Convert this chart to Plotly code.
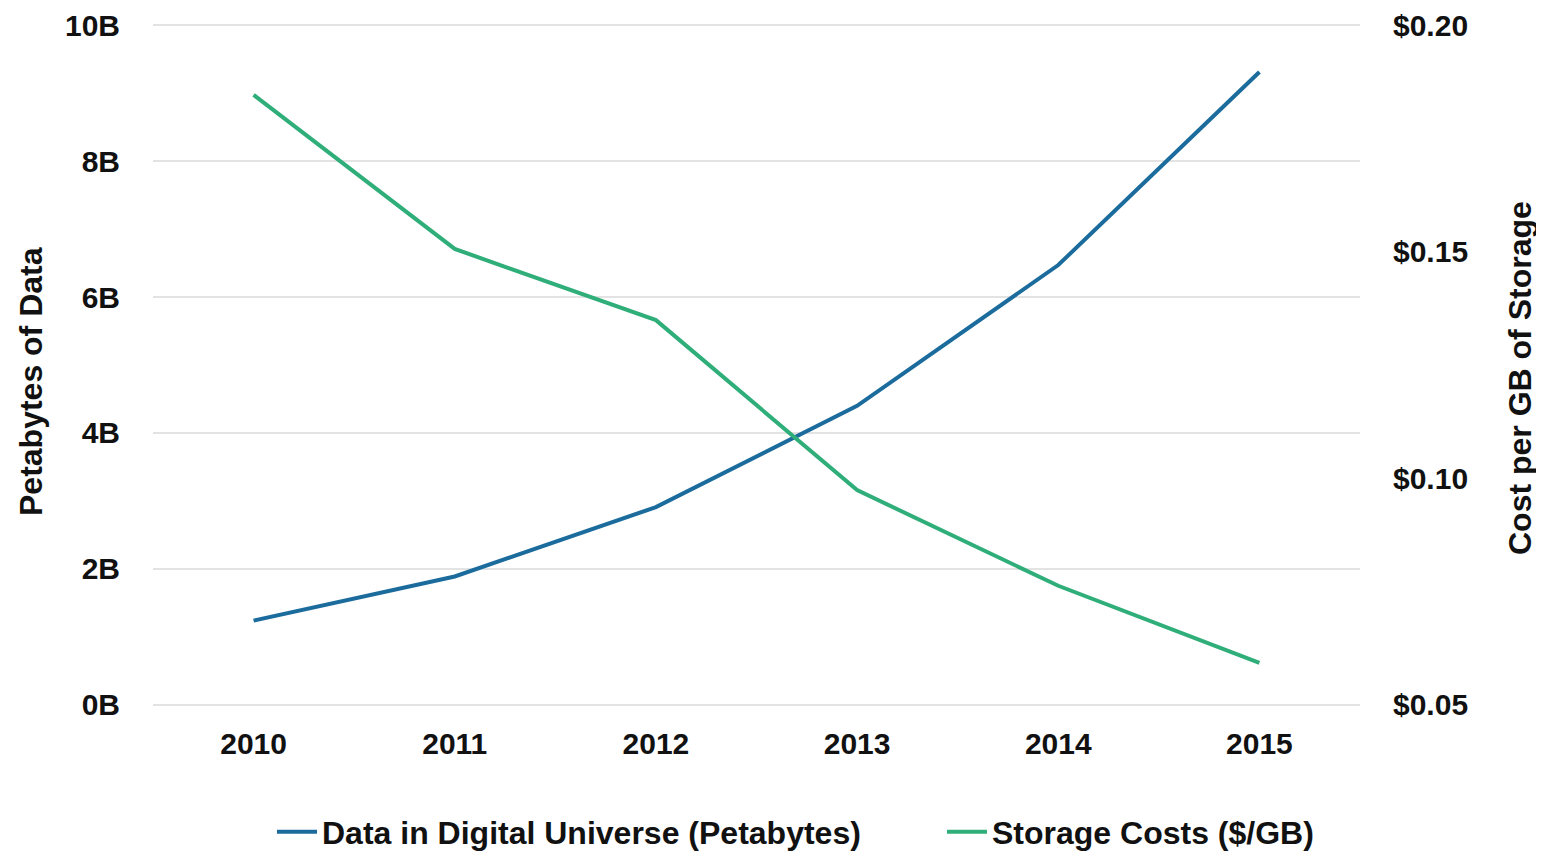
import plotly.graph_objects as go

years = ["2010", "2011", "2012", "2013", "2014", "2015"]
data_pb_billions = [1.24, 1.89, 2.91, 4.40, 6.47, 9.31]
cost_per_gb = [0.1846, 0.1506, 0.1349, 0.0974, 0.0763, 0.0593]
left_ticks = [0, 2, 4, 6, 8, 10]
left_tick_text = ["0B", "2B", "4B", "6B", "8B", "10B"]
right_ticks = [0.05, 0.10, 0.15, 0.20]
right_tick_text = ["$0.05", "$0.10", "$0.15", "$0.20"]
left_title = "Petabytes of Data"
right_title = "Cost per GB of Storage"

blue = "#1b6c9d"
green = "#2fae7a"
font_family = "Liberation Sans, Arial, sans-serif"

fig = go.Figure()
fig.add_trace(go.Scatter(x=years, y=data_pb_billions, mode="lines",
                         name="Data in Digital Universe (Petabytes)",
                         line=dict(color=blue, width=4), legend="legend"))
fig.add_trace(go.Scatter(x=years, y=cost_per_gb, mode="lines",
                         name="Storage Costs ($/GB)", yaxis="y2",
                         line=dict(color=green, width=4), legend="legend2"))

tick_font = dict(family=font_family, size=30, color="#111111", weight="bold")
title_font = dict(family=font_family, size=32, color="#111111", weight="bold")
legend_font = dict(family=font_family, size=32, color="#111111", weight="bold")

pad = 0.03
y_range = [0 - pad, 10 + pad]
y2_range = [0.05 - pad * 0.015, 0.20 + pad * 0.015]

W, H = 1536, 843
legend_common = dict(orientation="h", xref="container", yref="container",
                     xanchor="left", yanchor="middle", y=19 / H,
                     font=legend_font, itemwidth=40, bgcolor="rgba(0,0,0,0)")

fig.update_layout(
    width=W, height=H,
    margin=dict(l=145, r=184, t=15, b=144),
    plot_bgcolor="white", paper_bgcolor="white",
    font=dict(family=font_family, color="#111111"),
    showlegend=True,
    legend=dict(x=264 / W, **legend_common),
    legend2=dict(x=934 / W, **legend_common),
    xaxis=dict(type="category", range=[-0.5, 5.5], showgrid=False, showline=False,
               zeroline=False, tickfont=tick_font, ticks="outside", ticklen=10,
               tickcolor="rgba(0,0,0,0)", automargin=False),
    yaxis=dict(range=y_range, tickmode="array", tickvals=left_ticks, ticktext=left_tick_text,
               showgrid=True, gridcolor="#e3e3e3", gridwidth=2, zeroline=False,
               showline=False, tickfont=tick_font, ticks="outside", ticklen=26,
               tickcolor="rgba(0,0,0,0)", automargin=False),
    yaxis2=dict(range=y2_range, tickmode="array", tickvals=right_ticks, ticktext=right_tick_text,
                overlaying="y", side="right", showgrid=False,
                zeroline=False, showline=False, tickfont=tick_font, ticks="outside",
                ticklen=26, tickcolor="rgba(0,0,0,0)", automargin=False),
    annotations=[
        dict(text=left_title, textangle=-90, xref="paper", yref="paper",
             x=0, y=(684 - 359) / 684, xshift=-122, xanchor="center", yanchor="middle",
             showarrow=False, font=title_font),
        dict(text=right_title, textangle=-90, xref="paper", yref="paper",
             x=1, y=(684 - 355) / 684, xshift=160, xanchor="center", yanchor="middle",
             showarrow=False, font=title_font),
    ],
)

fig.write_html("out.html")
